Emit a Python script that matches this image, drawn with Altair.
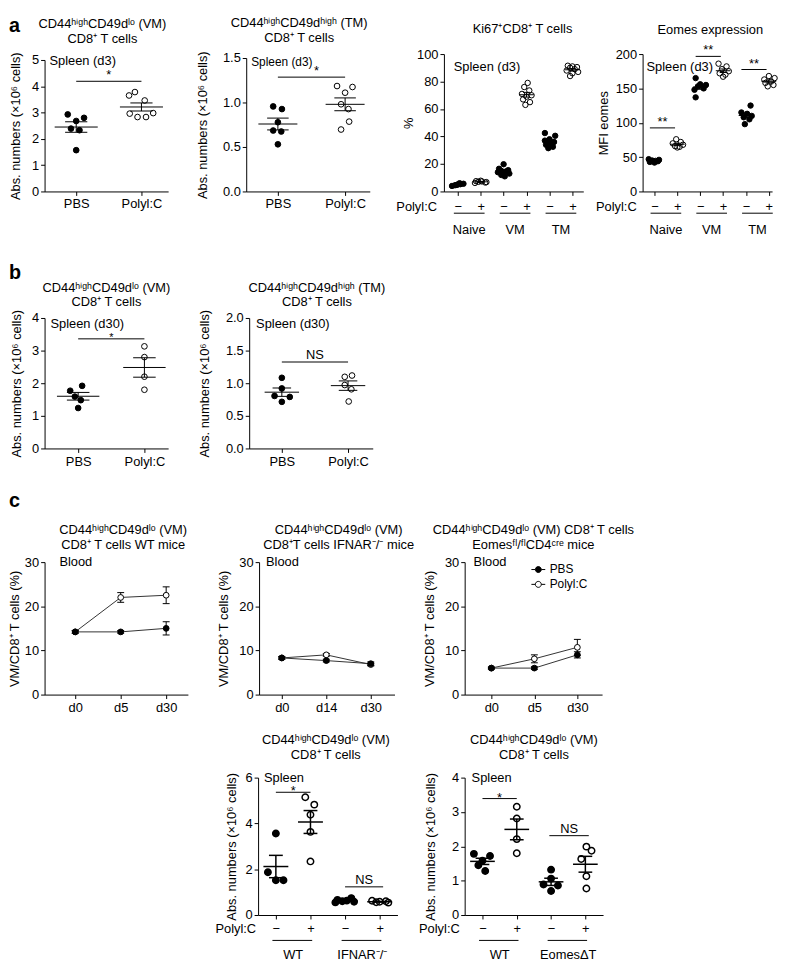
import json
import numpy as np
import pandas as pd
import altair as alt

FONT = "Liberation Sans"
FS = 13
MINUS = "\u2212"
POLY = "Polyl:C"
DUMMY = pd.DataFrame({"d": [0]})

# ---------------- text ----------------
T_VM = "CD44ʰⁱᵍʰCD49dˡᵒ (VM)"
T_TM = "CD44ʰⁱᵍʰCD49dʰⁱᵍʰ (TM)"
T_CD8 = "CD8⁺ T cells"
Y_ABS = "Abs. numbers (×10⁶ cells)"
Y_PCT = "VM/CD8⁺ T cells (%)"
TWO_LABELS = ["PBS", POLY]
PM6_LABELS = [MINUS, "+", MINUS, "+", MINUS, "+"]
PM4_LABELS = [MINUS, "+", MINUS, "+"]
GROUPS_A = ["Naive", "VM", "TM"]
GROUPS_C4 = ["WT", "IFNAR⁻/⁻"]
GROUPS_C5 = ["WT", "EomesΔT"]

# ---------------- panel a ----------------
a1_pbs = [2.93, 2.68, 2.80, 2.39, 2.33, 1.57]
a1_pbs_off = [-0.13, 0.0, 0.12, -0.08, 0.05, 0.0]
a1_poly = [3.78, 3.65, 3.46, 2.96, 2.83, 2.83, 2.98]
a1_poly_off = [-0.10, -0.19, 0.05, -0.18, -0.06, 0.07, 0.18]
a1_sig = [(1, 2, 4.19, "*", -2)]

a2_pbs = [0.956, 0.926, 0.778, 0.685, 0.674, 0.53]
a2_pbs_off = [-0.07, 0.06, 0.0, -0.07, 0.05, 0.0]
a2_poly = [1.185, 1.11, 1.174, 0.98, 0.926, 0.785, 0.696]
a2_poly_off = [-0.12, 0.0, 0.11, -0.06, 0.05, 0.06, -0.06]
a2_sig = [(1, 2, 1.285, "*", -2)]

a3_naive_m = [4.0, 4.5, 5.0, 5.3, 5.6, 6.0, 4.8]
a3_naive_m_off = [-0.25, -0.12, 0.0, 0.12, 0.25, 0.08, -0.05]
a3_naive_p = [6.2, 6.5, 7.0, 7.3, 7.8, 6.8, 7.5]
a3_naive_p_off = [-0.25, 0.2, -0.1, 0.05, 0.0, 0.25, -0.2]
a3_vm_m = [19.8, 16.5, 15.5, 15.0, 14.5, 14.0, 13.0, 12.0, 11.0]
a3_vm_m_off = [0.0, -0.2, 0.2, -0.1, 0.1, -0.25, 0.25, -0.1, 0.05]
a3_vm_p = [79, 76, 73.5, 71, 70, 69, 67, 65, 63]
a3_vm_p_off = [0.05, -0.1, 0.12, -0.2, 0.22, 0.0, -0.15, 0.15, -0.05]
a3_tm_m = [42.5, 40.5, 38, 37, 36, 35, 34, 32.5, 31.5]
a3_tm_m_off = [-0.2, 0.25, 0.0, -0.2, 0.2, 0.0, -0.15, 0.15, -0.05]
a3_tm_p = [91.5, 91, 90.5, 90, 89, 88, 87, 86, 84]
a3_tm_p_off = [-0.2, 0.0, 0.2, -0.1, 0.1, -0.25, 0.25, 0.0, -0.1]

a4_naive_m = [47, 46, 45, 44.5, 44, 43, 42]
a4_naive_m_off = [-0.25, 0.2, -0.1, 0.05, 0.15, -0.2, 0.0]
a4_naive_p = [76, 72, 70, 68, 66, 65, 64]
a4_naive_p_off = [-0.05, 0.15, -0.2, 0.25, -0.1, 0.1, 0.0]
a4_vm_m = [165, 156, 155, 153, 150, 148, 137]
a4_vm_m_off = [-0.2, 0.0, 0.25, -0.1, 0.15, -0.25, -0.2]
a4_vm_p = [186, 182, 178, 175, 172, 170, 167]
a4_vm_p_off = [-0.2, 0.15, -0.05, 0.25, -0.15, 0.1, 0.0]
a4_tm_m = [125, 115, 113, 110, 108, 105, 98]
a4_tm_m_off = [0.2, -0.2, 0.05, 0.25, -0.1, 0.15, -0.05]
a4_tm_p = [168, 165, 163, 160, 158, 155, 153]
a4_tm_p_off = [0.0, 0.25, -0.2, 0.1, -0.15, 0.2, -0.05]
a4_sig = [(0.8, 1.9, 92.5, "**", -2), (2.8, 3.9, 196.6, "**", -2), (4.8, 5.9, 177.5, "**", -2)]

# ---------------- panel b ----------------
b1_pbs = [1.77, 1.92, 1.59, 1.48, 1.24]
b1_pbs_off = [-0.12, 0.06, -0.05, 0.04, 0.0]
b1_poly = [3.13, 2.80, 2.20, 1.80]
b1_poly_off = [0.0, 0.0, 0.0, 0.0]
b1_sig = [(1, 2, 3.36, "*", 2)]

b2_pbs = [1.083, 0.92, 0.805, 0.79, 0.715]
b2_pbs_off = [0.0, 0.0, -0.11, 0.12, 0.0]
b2_poly = [1.098, 1.118, 0.972, 0.907, 0.72]
b2_poly_off = [-0.05, 0.06, -0.05, 0.05, 0.01]
b2_sig = [(1, 2, 1.325, "NS", -3)]

# ---------------- panel c (lines) ----------------
c1_days = ["d0", "d5", "d30"]
c1_pbs = [14.2, 14.2, 15.0]
c1_pbs_sem = [0.3, 0.3, 1.5]
c1_poly = [14.2, 22.0, 22.5]
c1_poly_sem = [0.3, 1.1, 1.9]

c2_days = ["d0", "d14", "d30"]
c2_pbs = [8.3, 7.7, 7.0]
c2_pbs_sem = [0.3, 0.3, 0.4]
c2_poly = [8.3, 9.0, 6.8]
c2_poly_sem = [0.3, 0.3, 0.3]

c3_days = ["d0", "d5", "d30"]
c3_pbs = [6.0, 6.0, 9.0]
c3_pbs_sem = [0.2, 0.3, 0.7]
c3_poly = [6.0, 8.1, 10.7]
c3_poly_sem = [0.2, 0.9, 1.8]

# ---------------- panel c (spleen) ----------------
c4_wt_m = [3.56, 1.87, 1.52, 1.52]
c4_wt_m_off = [0.0, -0.23, 0.0, 0.22]
c4_wt_p = [5.14, 4.82, 4.38, 3.63, 2.34]
c4_wt_p_off = [-0.15, 0.11, 0.0, 0.0, 0.0]
c4_ko_m = [0.74, 0.66, 0.63, 0.60, 0.58, 0.55]
c4_ko_m_off = [0.18, -0.22, 0.05, -0.08, 0.26, -0.28]
c4_ko_p = [0.62, 0.60, 0.58, 0.56, 0.54]
c4_ko_p_off = [-0.22, 0.18, 0.0, -0.1, 0.25]
c4_sig = [(1, 2, 5.36, "*", 3), (3, 4.1, 1.23, "NS", -3)]

c5_wt_m = [1.78, 1.72, 1.58, 1.45, 1.28]
c5_wt_m_off = [-0.25, 0.22, 0.0, -0.12, 0.08]
c5_wt_p = [3.15, 2.81, 2.21, 1.80]
c5_wt_p_off = [0.0, 0.0, 0.0, 0.0]
c5_ko_m = [1.32, 1.06, 0.89, 0.86, 0.70]
c5_ko_m_off = [0.0, 0.0, -0.22, 0.2, 0.0]
c5_ko_p = [1.99, 1.87, 1.63, 1.13, 0.77]
c5_ko_p_off = [0.03, 0.18, -0.12, 0.03, 0.03]
c5_sig = [(1, 2, 3.39, "*", 3), (2.95, 4.1, 2.31, "NS", -3)]


# ================= helpers =================
def label_expr(values, labels):
    expr = "''"
    for v, l in reversed(list(zip(values, labels))):
        expr = "datum.value == %s ? %s : (%s)" % (v, json.dumps(l, ensure_ascii=False), expr)
    return expr


def build_points(groups):
    rows = []
    for pos, (vals, offs, filled) in enumerate(groups, start=1):
        for v, o in zip(vals, offs):
            rows.append({"x": pos + o, "y": v, "filled": filled})
    return pd.DataFrame(rows)


def build_stats(groups, mhw, chw):
    rows = []
    for pos, (vals, offs, filled) in enumerate(groups, start=1):
        arr = np.asarray(vals, dtype=float)
        m = arr.mean()
        s = arr.std(ddof=1) / np.sqrt(len(arr))
        rows.append({"pos": pos, "mean": m, "lo": m - s, "hi": m + s,
                     "mx1": pos - mhw, "mx2": pos + mhw, "cx1": pos - chw, "cx2": pos + chw})
    return pd.DataFrame(rows)


def corner_text(text, xy, fs=FS):
    return alt.Chart(DUMMY).mark_text(
        font=FONT, fontSize=fs, align="left", baseline="middle", color="black"
    ).encode(x=alt.value(xy[0]), y=alt.value(xy[1]), text=alt.value(text))


def make_title(text, offset, dx):
    return alt.TitleParams(text=text, offset=offset, dx=dx, anchor="middle", frame="group", font=FONT,
                           fontSize=FS, fontWeight="normal", color="black", lineHeight=15)


def spacer(w, band=None, letter=None):
    """Invisible layout cell; band = (x, y_top, y_bottom) fixes the row extent, letter = panel label."""
    layers = [alt.Chart(DUMMY).mark_point(opacity=0, size=1).encode(x=alt.value(0), y=alt.value(0))]
    if band is not None:
        bx, b0, b1 = band
        layers.append(alt.Chart(DUMMY).mark_rule(opacity=0, strokeWidth=1).encode(
            x=alt.value(bx), y=alt.value(b0), y2=alt.value(b1)))
    if letter is not None:
        lt, lx, ly = letter
        layers.append(alt.Chart(DUMMY).mark_text(
            font=FONT, fontSize=20, fontWeight="bold", align="left", baseline="alphabetic", color="black"
        ).encode(x=alt.value(lx), y=alt.value(ly), text=alt.value(lt)))
    return alt.layer(*layers).properties(width=w, height=1)


def scatter_panel(groups, *, width, height, xdom, ticks, ticklabels, ydom, yrange, yticks, yfmt,
                  ytitle, ytitle_x, title, title_offset, title_dx, corner, corner_xy, corner_fs=FS,
                  sigs=None, sig_fs=FS, sig_dx=0, size=33, sw=1.0, mhw=0.32, chw=0.16, ew=1.0,
                  label_pad=3, polyic=None, group_names=None, under_dy=22, name_dy=39,
                  gext=(0.17, 0.17)):
    pts = build_points(groups)
    st = build_stats(groups, mhw, chw)
    xs = alt.Scale(domain=xdom, nice=False, zero=False)
    ys = alt.Scale(domain=ydom, range=yrange, nice=False, zero=False)
    xa = alt.Axis(values=ticks, labelExpr=label_expr(ticks, ticklabels), title=None,
                  labelPadding=label_pad, labelAngle=0, labelOverlap=False, labelFlush=False)
    ya = alt.Axis(values=yticks, format=yfmt, title=ytitle, titleX=ytitle_x)

    def X(f):
        return alt.X(f + ":Q", scale=xs, axis=xa)

    def Y(f):
        return alt.Y(f + ":Q", scale=ys, axis=ya)

    layers = []
    filled = pts[pts["filled"]]
    opn = pts[~pts["filled"]]
    layers.append(alt.Chart(filled).mark_point(
        shape="circle", filled=True, fill="black", stroke="black", strokeWidth=sw, size=size, opacity=1
    ).encode(x=X("x"), y=Y("y")))
    layers.append(alt.Chart(opn).mark_point(
        shape="circle", filled=False, stroke="black", strokeWidth=sw, size=size, opacity=1
    ).encode(x=X("x"), y=Y("y")))
    base = alt.Chart(st)
    layers.append(base.mark_rule(color="black", strokeWidth=ew).encode(x=X("mx1"), x2="mx2", y=Y("mean")))
    layers.append(base.mark_rule(color="black", strokeWidth=ew).encode(x=X("pos"), y=Y("lo"), y2="hi"))
    layers.append(base.mark_rule(color="black", strokeWidth=ew).encode(x=X("cx1"), x2="cx2", y=Y("lo")))
    layers.append(base.mark_rule(color="black", strokeWidth=ew).encode(x=X("cx1"), x2="cx2", y=Y("hi")))
    if sigs:
        sd = pd.DataFrame(sigs, columns=["x1", "x2", "y", "label", "dy"])
        sd["xm"] = (sd["x1"] + sd["x2"]) / 2
        layers.append(alt.Chart(sd).mark_rule(color="black", strokeWidth=1).encode(
            x=X("x1"), x2="x2", y=Y("y")))
        for dyv in sorted(sd["dy"].unique()):
            sub = sd[sd["dy"] == dyv]
            layers.append(alt.Chart(sub).mark_text(
                font=FONT, fontSize=sig_fs, baseline="alphabetic", align="center", dy=float(dyv),
                dx=sig_dx, color="black"
            ).encode(x=X("xm"), y=Y("y"), text="label:N"))
    layers.append(corner_text(corner, corner_xy, corner_fs))
    if polyic is not None:
        layers.append(alt.Chart(DUMMY).mark_text(
            font=FONT, fontSize=FS, align="right", baseline="middle", color="black"
        ).encode(x=alt.value(polyic[0]), y=alt.value(polyic[1]), text=alt.value(POLY)))
    if group_names:
        rows = []
        for i, name in enumerate(group_names):
            p1 = 2 * i + 1
            p2 = 2 * i + 2
            rows.append({"g1": p1 - gext[0], "g2": p2 + gext[1], "gm": (p1 + p2) / 2, "name": name})
        gd = pd.DataFrame(rows)
        layers.append(alt.Chart(gd).mark_rule(color="black", strokeWidth=1).encode(
            x=X("g1"), x2="g2", y=alt.value(height + under_dy)))
        layers.append(alt.Chart(gd).mark_text(
            font=FONT, fontSize=FS, align="center", baseline="middle", color="black"
        ).encode(x=X("gm"), y=alt.value(height + name_dy), text="name:N"))
    return alt.layer(*layers).properties(width=width, height=height,
                                        title=make_title(title, title_offset, title_dx))


LEG_SYMBOL = "M-1,0H-0.43M0.43,0H1M-0.43,0A0.43,0.43,0,1,0,0.43,0A0.43,0.43,0,1,0,-0.43,0"


def line_panel(days, pbs, pbs_sem, poly, poly_sem, *, width, height, xdom, ytitle_x, title,
               title_offset, title_dx, corner_xy, cap=0.08, legend=None):
    rows = []
    for tr, ms, ss in ((POLY, poly, poly_sem), ("PBS", pbs, pbs_sem)):
        for t, (m, s) in enumerate(zip(ms, ss)):
            rows.append({"t": t, "mean": m, "lo": m - s, "hi": m + s,
                         "c1": t - cap, "c2": t + cap, "treatment": tr})
    df = pd.DataFrame(rows)
    xs = alt.Scale(domain=xdom, nice=False, zero=False)
    ys = alt.Scale(domain=[0, 30], nice=False, zero=False)
    xa = alt.Axis(values=[0, 1, 2], labelExpr=label_expr([0, 1, 2], days), title=None,
                  labelPadding=3, labelAngle=0, labelOverlap=False, labelFlush=False)
    ya = alt.Axis(values=[0, 10, 20, 30], format="d", title=Y_PCT, titleX=ytitle_x)

    def X(f):
        return alt.X(f + ":Q", scale=xs, axis=xa)

    def Y(f):
        return alt.Y(f + ":Q", scale=ys, axis=ya)

    base = alt.Chart(df)
    layers = [
        base.mark_line(color="#333333", strokeWidth=1).encode(x=X("t"), y=Y("mean"), detail="treatment:N"),
        base.mark_rule(color="black", strokeWidth=1).encode(x=X("t"), y=Y("lo"), y2="hi"),
        base.mark_rule(color="black", strokeWidth=1).encode(x=X("c1"), x2="c2", y=Y("lo")),
        base.mark_rule(color="black", strokeWidth=1).encode(x=X("c1"), x2="c2", y=Y("hi")),
        base.mark_point(shape="circle", filled=True, stroke="black", strokeWidth=1, size=34, opacity=1).encode(
            x=X("t"), y=Y("mean"),
            fill=alt.Fill("treatment:N", scale=alt.Scale(domain=["PBS", POLY], range=["black", "white"]),
                          legend=legend)),
        corner_text("Blood", corner_xy),
    ]
    return alt.layer(*layers).properties(width=width, height=height,
                                        title=make_title(title, title_offset, title_dx))


# ================= panels =================
A_H = 139
a1 = scatter_panel(
    [(a1_pbs, a1_pbs_off, True), (a1_poly, a1_poly_off, False)],
    width=125, height=A_H, xdom=[0.515, 2.409], ticks=[1, 2], ticklabels=TWO_LABELS,
    ydom=[0, 5], yrange=[A_H, 6], yticks=[0, 1, 2, 3, 4, 5], yfmt="d", ytitle=Y_ABS, ytitle_x=-22,
    title=[T_VM, T_CD8], title_offset=6, title_dx=-4, corner="Spleen (d3)", corner_xy=(5, 7),
    sigs=a1_sig, mhw=0.33, chw=0.17, label_pad=2.5)

a2 = scatter_panel(
    [(a2_pbs, a2_pbs_off, True), (a2_poly, a2_poly_off, False)],
    width=125, height=A_H, xdom=[0.529, 2.367], ticks=[1, 2], ticklabels=TWO_LABELS,
    ydom=[0, 1.5], yrange=[A_H, 4], yticks=[0, 0.5, 1.0, 1.5], yfmt=".1f", ytitle=Y_ABS, ytitle_x=-37,
    title=[T_TM, T_CD8], title_offset=6, title_dx=-9, corner="Spleen (d3)", corner_xy=(5, 8),
    corner_fs=12, sigs=a2_sig, sig_dx=5, mhw=0.29, chw=0.16, label_pad=2.5)

a3 = scatter_panel(
    [(a3_naive_m, a3_naive_m_off, True), (a3_naive_p, a3_naive_p_off, False),
     (a3_vm_m, a3_vm_m_off, True), (a3_vm_p, a3_vm_p_off, False),
     (a3_tm_m, a3_tm_m_off, True), (a3_tm_p, a3_tm_p_off, False)],
    width=141, height=A_H, xdom=[0.397, 6.475], ticks=[1, 2, 3, 4, 5, 6], ticklabels=PM6_LABELS,
    ydom=[0, 100], yrange=[A_H, 0], yticks=[0, 20, 40, 60, 80, 100], yfmt="d", ytitle="%", ytitle_x=-29,
    title="Ki67⁺CD8⁺ T cells", title_offset=12, title_dx=9, corner="Spleen (d3)", corner_xy=(10, 13),
    size=30, mhw=0.32, chw=0.15, label_pad=5.5, polyic=(-7, A_H + 16), group_names=GROUPS_A,
    under_dy=22, name_dy=39)

a4 = scatter_panel(
    [(a4_naive_m, a4_naive_m_off, True), (a4_naive_p, a4_naive_p_off, False),
     (a4_vm_m, a4_vm_m_off, True), (a4_vm_p, a4_vm_p_off, False),
     (a4_tm_m, a4_tm_m_off, True), (a4_tm_p, a4_tm_p_off, False)],
    width=131, height=A_H, xdom=[0.482, 6.141], ticks=[1, 2, 3, 4, 5, 6], ticklabels=PM6_LABELS,
    ydom=[0, 200], yrange=[A_H, 0], yticks=[0, 50, 100, 150, 200], yfmt="d", ytitle="MFI eomes",
    ytitle_x=-32, title="Eomes expression", title_offset=8, title_dx=3, corner="Spleen (d3)",
    corner_xy=(4, 13), sigs=a4_sig, size=30, mhw=0.32, chw=0.15, label_pad=5.5,
    polyic=(-6, A_H + 16), group_names=GROUPS_A, under_dy=22, name_dy=39)

B_H = 132
b1 = scatter_panel(
    [(b1_pbs, b1_pbs_off, True), (b1_poly, b1_poly_off, False)],
    width=125, height=B_H, xdom=[0.493, 2.358], ticks=[1, 2], ticklabels=TWO_LABELS,
    ydom=[0, 4], yrange=[B_H, 0], yticks=[0, 1, 2, 3, 4], yfmt="d", ytitle=Y_ABS, ytitle_x=-21,
    title=[T_VM, T_CD8], title_offset=0, title_dx=0, corner="Spleen (d30)", corner_xy=(6, 6),
    sigs=b1_sig, sig_fs=11, mhw=0.32, chw=0.17, label_pad=3.5)

b2 = scatter_panel(
    [(b2_pbs, b2_pbs_off, True), (b2_poly, b2_poly_off, False)],
    width=125, height=B_H, xdom=[0.507, 2.373], ticks=[1, 2], ticklabels=TWO_LABELS,
    ydom=[0, 2], yrange=[B_H, 0], yticks=[0, 0.5, 1.0, 1.5, 2.0], yfmt=".1f", ytitle=Y_ABS, ytitle_x=-38,
    title=[T_TM, T_CD8], title_offset=0, title_dx=6, corner="Spleen (d30)", corner_xy=(7, 6),
    sigs=b2_sig, mhw=0.26, chw=0.14, label_pad=3.5)

C_H = 134
c1 = line_panel(c1_days, c1_pbs, c1_pbs_sem, c1_poly, c1_poly_sem,
                width=145, height=C_H, xdom=[-0.674, 2.478], ytitle_x=-23,
                title=[T_VM, "CD8⁺ T cells WT mice"], title_offset=4, title_dx=7, corner_xy=(15, 0),
                cap=0.076)
c2 = line_panel(c2_days, c2_pbs, c2_pbs_sem, c2_poly, c2_poly_sem,
                width=137, height=C_H, xdom=[-0.511, 2.533], ytitle_x=-29,
                title=[T_VM, "CD8⁺T cells IFNAR⁻/⁻ mice"], title_offset=4, title_dx=12, corner_xy=(7, 0),
                cap=0.078)
c3 = line_panel(c3_days, c3_pbs, c3_pbs_sem, c3_poly, c3_poly_sem,
                width=139, height=C_H, xdom=[-0.621, 2.575], ytitle_x=-29,
                title=[T_VM + " " + T_CD8, "Eomesᶠˡ/ᶠˡCD4ᶜʳᵉ mice"], title_offset=4, title_dx=0,
                corner_xy=(9, 0), cap=0.08,
                legend=alt.Legend(title=None, orient="none", legendX=67, legendY=0, symbolType=LEG_SYMBOL,
                                  symbolSize=196, symbolStrokeColor="black", symbolStrokeWidth=1,
                                  labelFont=FONT, labelFontSize=12, labelColor="black", labelOffset=4,
                                  rowPadding=1, padding=0))

D_H = 139
c4 = scatter_panel(
    [(c4_wt_m, c4_wt_m_off, True), (c4_wt_p, c4_wt_p_off, False),
     (c4_ko_m, c4_ko_m_off, True), (c4_ko_p, c4_ko_p_off, False)],
    width=141, height=D_H, xdom=[0.486, 4.514], ticks=[1, 2, 3, 4], ticklabels=PM4_LABELS,
    ydom=[0, 6], yrange=[D_H, 0], yticks=[0, 2, 4, 6], yfmt="d", ytitle=Y_ABS, ytitle_x=-20,
    title=[T_VM, T_CD8], title_offset=10, title_dx=-2, corner="Spleen", corner_xy=(6, 0),
    sigs=c4_sig, size=42, sw=1.5, mhw=0.36, chw=0.2, ew=1.5, label_pad=3.5,
    polyic=(-2, D_H + 14), group_names=GROUPS_C4, under_dy=25.7, name_dy=40, gext=(0.1, 0.05))

c5 = scatter_panel(
    [(c5_wt_m, c5_wt_m_off, True), (c5_wt_p, c5_wt_p_off, False),
     (c5_ko_m, c5_ko_m_off, True), (c5_ko_p, c5_ko_p_off, False)],
    width=140, height=D_H, xdom=[0.481, 4.516], ticks=[1, 2, 3, 4], ticklabels=PM4_LABELS,
    ydom=[0, 4], yrange=[D_H, 0], yticks=[0, 1, 2, 3, 4], yfmt="d", ytitle=Y_ABS, ytitle_x=-28,
    title=[T_VM, T_CD8], title_offset=10, title_dx=0, corner="Spleen", corner_xy=(7, 0),
    sigs=c5_sig, size=42, sw=1.5, mhw=0.36, chw=0.2, ew=1.5, label_pad=3.5,
    polyic=(-5, D_H + 14), group_names=GROUPS_C5, under_dy=25.7, name_dy=40, gext=(0.1, 0.05))

# ================= layout =================
rowA = alt.hconcat(spacer(1, band=(-35, -41, 191), letter=("a", -35, -22)),
                   a1, spacer(79), a2, spacer(75), a3, spacer(60), a4, spacing=0, bounds="flush")
rowB = alt.hconcat(spacer(1, band=(-35, -76, 164), letter=("b", -35, -39)),
                   b1, spacer(82), b2, spacing=0, bounds="flush")
rowC = alt.hconcat(spacer(1, band=(-35, -83, 163), letter=("c", -35, -56)),
                   c1, spacer(72), c2, spacer(71), c3, spacing=0, bounds="flush") \
    .resolve_scale(fill="independent").resolve_legend(fill="independent")
rowD = alt.hconcat(spacer(217, band=(-35, -55, 181)), c4, spacer(68), c5, spacing=0, bounds="flush")

chart = alt.vconcat(rowA, rowB, rowC, rowD, spacing=0) \
    .resolve_scale(fill="independent").resolve_legend(fill="independent") \
    .properties(padding=0) \
    .configure_view(stroke=None) \
    .configure_axis(grid=False, domainColor="black", tickColor="black", labelColor="black",
                    titleColor="black", labelFont=FONT, titleFont=FONT, labelFontSize=FS,
                    titleFontSize=FS, titleFontWeight="normal", tickSize=4, domainWidth=1,
                    tickWidth=1, labelPadding=2) \
    .configure_title(font=FONT, fontSize=FS, fontWeight="normal", color="black")

chart.save("out.html", embed_options={"renderer": "svg", "actions": False})
